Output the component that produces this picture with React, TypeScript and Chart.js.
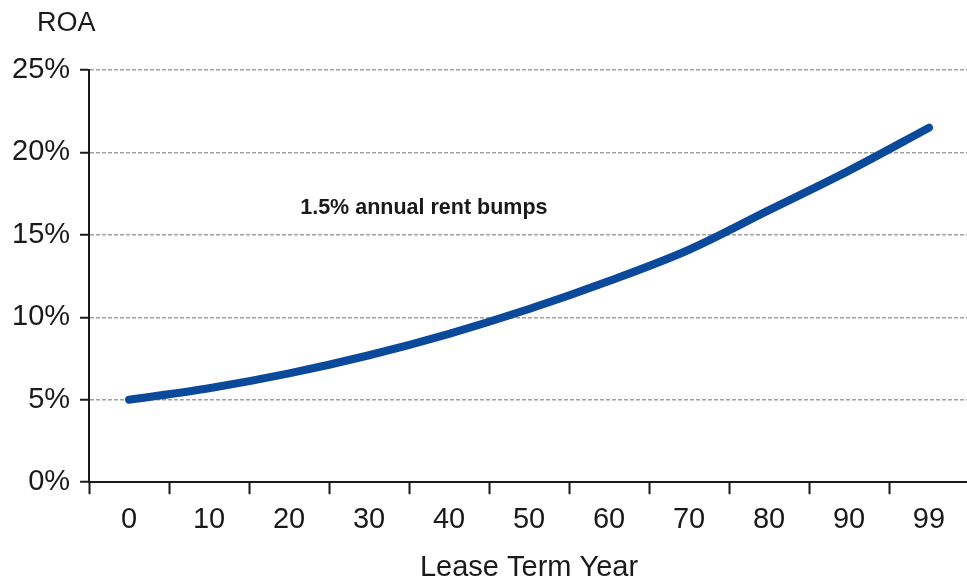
import React, { useEffect, useRef } from 'react';
import { Chart, registerables } from 'chart.js';

Chart.register(...registerables);

const leaseYears: string[] = ['0', '10', '20', '30', '40', '50', '60', '70', '80', '90', '99'];
const roaValues: number[] = [5.0, 5.7, 6.6, 7.7, 9.0, 10.5, 12.2, 14.1, 16.5, 18.9, 21.5];
const yTicks: number[] = [0, 5, 10, 15, 20, 25];

const noteText = '1.5% annual rent bumps';
const yTitle = 'ROA';
const xTitle = 'Lease Term Year';

const FONT = "'Liberation Sans', Arial, sans-serif";
const INK = '#1a1a1a';

const labelsPlugin = {
    id: 'extraLabels',
    afterDraw(chart: Chart) {
        const { ctx, scales } = chart;
        const x = scales.x;
        const y = scales.y;
        ctx.save();
        ctx.fillStyle = INK;
        ctx.textBaseline = 'middle';
        ctx.textAlign = 'left';

        ctx.font = `27px ${FONT}`;
        ctx.fillText(yTitle, 37, 24);

        ctx.font = `bold 21.5px ${FONT}`;
        ctx.fillText(noteText, x.getPixelForValue(2.14), y.getPixelForValue(16.6));
        ctx.restore();
    },
};

const App = () => {
    const chartRef = useRef<HTMLCanvasElement | null>(null);

    useEffect(() => {
        document.body.style.margin = '0';
        if (!chartRef.current) {
            return;
        }
        const ctx = chartRef.current.getContext('2d');
        if (!ctx) {
            return;
        }

        const chart = new Chart(ctx, {
            type: 'line',
            data: {
                labels: leaseYears,
                datasets: [{
                    label: yTitle,
                    data: roaValues,
                    borderColor: '#0b4a9b',
                    borderWidth: 8,
                    borderCapStyle: 'round',
                    cubicInterpolationMode: 'monotone',
                    pointRadius: 0,
                    fill: false,
                }],
            },
            options: {
                animation: false,
                responsive: true,
                maintainAspectRatio: false,
                layout: { padding: { top: 70, left: 2, right: 0, bottom: 0 } },
                plugins: {
                    legend: { display: false },
                    tooltip: { enabled: false },
                },
                scales: {
                    x: {
                        offset: true,
                        grid: {
                            offset: true,
                            drawOnChartArea: false,
                            drawTicks: true,
                            tickLength: 12,
                            tickColor: INK,
                            tickWidth: 2,
                        },
                        border: { color: INK, width: 2 },
                        ticks: {
                            color: INK,
                            font: { family: FONT, size: 29 },
                            padding: 8,
                            maxRotation: 0,
                        },
                        title: {
                            display: true,
                            text: xTitle,
                            color: INK,
                            font: { family: FONT, size: 29, lineHeight: 1 },
                            padding: { top: 8, bottom: 0 },
                        },
                    },
                    y: {
                        min: 0,
                        max: 25,
                        afterBuildTicks: (axis) => {
                            axis.ticks = yTicks.map(v => ({ value: v }));
                        },
                        grid: {
                            color: '#a0a0a0',
                            lineWidth: 1.5,
                            tickColor: INK,
                            tickWidth: 2,
                            tickLength: 9,
                            tickBorderDash: [],
                        },
                        border: { color: INK, width: 2, dash: [4, 2] },
                        ticks: {
                            color: INK,
                            font: { family: FONT, size: 29 },
                            padding: 10,
                            callback: (v) => `${v}%`,
                        },
                    },
                },
            },
            plugins: [labelsPlugin],
        });

        return () => {
            chart.destroy();
        };
    }, []);

    return (
        <div style={{ width: 967, height: 582, overflow: 'hidden', background: '#fff' }}>
            <div style={{ width: 969, height: 582, position: 'relative' }}>
                <canvas ref={chartRef} />
            </div>
        </div>
    );
};

export default App;
